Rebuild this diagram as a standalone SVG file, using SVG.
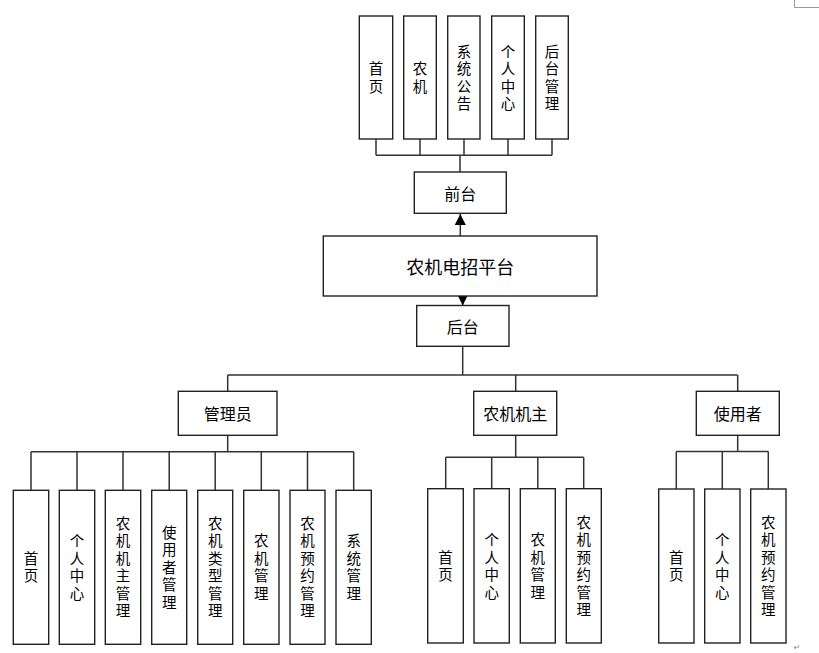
<svg xmlns="http://www.w3.org/2000/svg" width="819" height="653" viewBox="0 0 819 653">
<defs>
<style>
.box{fill:#fff;stroke:#222;stroke-width:1.4}
.ln{fill:none;stroke:#333;stroke-width:1.5}
.t{font-family:"Noto Sans CJK SC","Liberation Sans",sans-serif;font-size:16px;fill:#000;text-anchor:middle;dominant-baseline:central}
.v{font-family:"Noto Sans CJK SC","Liberation Sans",sans-serif;font-size:14.5px;fill:#000;text-anchor:middle;writing-mode:vertical-rl;text-orientation:upright;letter-spacing:3px}
</style>
<marker id="ah" viewBox="0 0 10 10" refX="10" refY="5" markerWidth="11" markerHeight="11" markerUnits="userSpaceOnUse" orient="auto">
<path d="M0,0 L10,5 L0,10 Z" fill="#000"/>
</marker>
</defs>
<rect width="819" height="653" fill="#fff"/>
<g id="cropmark" fill="none" stroke="#999" stroke-width="1"><path d="M794.5,0 V7.5 H819"/></g>

<g id="connectors">
<path class="ln" d="M376,139 V155.3 M420,139 V155.3 M464,139 V155.3 M508,139 V155.3 M552,139 V155.3 M376,155.3 H552 M460,155.3 V172"/>
<path class="ln" d="M460.3,236 V214" marker-end="url(#ah)"/>
<path class="ln" d="M462.7,296 V305.5" marker-end="url(#ah)"/>
<path class="ln" d="M462.7,346.3 V375 M227.7,375 H737.7 M227.7,375 V391.3 M515.7,375 V391.3 M737.7,375 V391.3"/>
<path class="ln" d="M227.7,435.3 V451.7 M31,451.7 H353.7 M31,451.7 V490.3 M77,451.7 V490.3 M123,451.7 V490.3 M169.2,451.7 V490.3 M215.2,451.7 V490.3 M261.3,451.7 V490.3 M307.5,451.7 V490.3 M353.7,451.7 V490.3"/>
<path class="ln" d="M515.7,435.3 V457.3 M445.7,457.3 H583.7 M445.7,457.3 V488.7 M491.7,457.3 V488.7 M537.8,457.3 V488.7 M583.7,457.3 V488.7"/>
<path class="ln" d="M737.7,435.3 V451.5 M676.3,451.5 H768.3 M676.3,451.5 V489 M722.3,451.5 V489 M768.3,451.5 V489"/>
</g>

<g id="f1"><rect class="box" x="359.3" y="16" width="33.4" height="123"/><text class="v" x="376" y="79">首页</text></g>
<g id="f2"><rect class="box" x="403.7" y="16" width="32.6" height="123"/><text class="v" x="420" y="79">农机</text></g>
<g id="f3"><rect class="box" x="447.7" y="16" width="32.3" height="123"/><text class="v" x="464" y="79">系统公告</text></g>
<g id="f4"><rect class="box" x="491.7" y="16" width="32.6" height="123"/><text class="v" x="508" y="79">个人中心</text></g>
<g id="f5"><rect class="box" x="535.7" y="16" width="32.6" height="123"/><text class="v" x="552" y="79">后台管理</text></g>

<g id="qiantai"><rect class="box" x="414.3" y="172" width="92" height="41.3"/><text class="t" x="460.3" y="192.6">前台</text></g>
<g id="platform"><rect class="box" x="323.3" y="236" width="273.7" height="60"/><text class="t" x="460.2" y="266" style="font-size:18px">农机电招平台</text></g>
<g id="houtai"><rect class="box" x="416.7" y="305.5" width="92.3" height="40.8"/><text class="t" x="462.8" y="325.9">后台</text></g>

<g id="admin"><rect class="box" x="178.3" y="391.3" width="98.7" height="44"/><text class="t" x="227.7" y="413.3">管理员</text></g>
<g id="owner"><rect class="box" x="473.7" y="391.3" width="83" height="44"/><text class="t" x="515.2" y="413.3">农机机主</text></g>
<g id="user"><rect class="box" x="696.3" y="391.3" width="83" height="44"/><text class="t" x="737.8" y="413.3">使用者</text></g>

<g id="a1"><rect class="box" x="13.3" y="490.3" width="35.4" height="154"/><text class="v" x="31" y="568.7">首页</text></g>
<g id="a2"><rect class="box" x="59.3" y="490.3" width="35.4" height="154"/><text class="v" x="77" y="568.7">个人中心</text></g>
<g id="a3"><rect class="box" x="105.3" y="490.3" width="35.4" height="154"/><text class="v" x="123" y="568.7">农机机主管理</text></g>
<g id="a4"><rect class="box" x="151.7" y="490.3" width="35" height="154"/><text class="v" x="169.2" y="568.7">使用者管理</text></g>
<g id="a5"><rect class="box" x="197.7" y="490.3" width="35" height="154"/><text class="v" x="215.2" y="568.7">农机类型管理</text></g>
<g id="a6"><rect class="box" x="243.7" y="490.3" width="35.3" height="154"/><text class="v" x="261.3" y="568.7">农机管理</text></g>
<g id="a7"><rect class="box" x="290" y="490.3" width="35" height="154"/><text class="v" x="307.5" y="568.7">农机预约管理</text></g>
<g id="a8"><rect class="box" x="336" y="490.3" width="35.3" height="154"/><text class="v" x="353.7" y="568.7">系统管理</text></g>

<g id="o1"><rect class="box" x="427.7" y="488.7" width="35.6" height="154.3"/><text class="v" x="445.5" y="567.3">首页</text></g>
<g id="o2"><rect class="box" x="474" y="488.7" width="35.3" height="154.3"/><text class="v" x="491.7" y="567.3">个人中心</text></g>
<g id="o3"><rect class="box" x="520.3" y="488.7" width="35" height="154.3"/><text class="v" x="537.8" y="567.3">农机管理</text></g>
<g id="o4"><rect class="box" x="566.3" y="488.7" width="35" height="154.3"/><text class="v" x="583.8" y="567.3">农机预约管理</text></g>

<g id="u1"><rect class="box" x="658.7" y="489" width="35.3" height="154"/><text class="v" x="676.3" y="567.3">首页</text></g>
<g id="u2"><rect class="box" x="704.7" y="489" width="35.3" height="154"/><text class="v" x="722.3" y="567.3">个人中心</text></g>
<g id="u3"><rect class="box" x="750.7" y="489" width="35.3" height="154"/><text class="v" x="768.3" y="567.3">农机预约管理</text></g>

<text x="797" y="647" style="font-family:'DejaVu Sans',sans-serif;font-size:8px;fill:#888;text-anchor:middle;dominant-baseline:central">↵</text>
</svg>
